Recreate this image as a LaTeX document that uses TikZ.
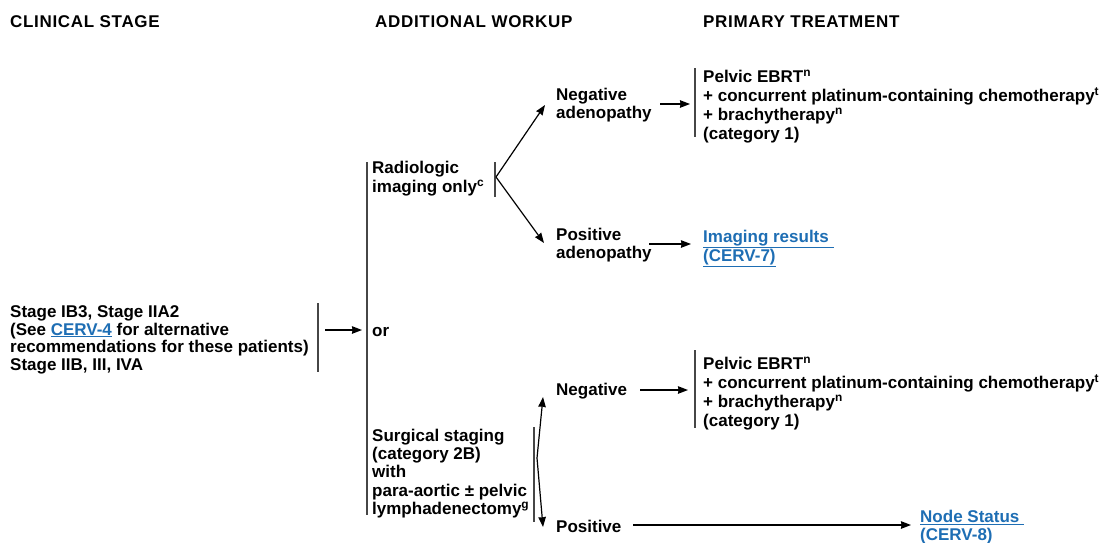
\documentclass[tikz,border=0pt]{standalone}
\usepackage{fontspec}
\setmainfont{Liberation Sans}
\newfontfamily\hdrfont[LetterSpace=4]{Liberation Sans}
\usetikzlibrary{arrows.meta}
\definecolor{linkblue}{RGB}{30,110,180}
\definecolor{rulegray}{RGB}{70,70,70}
\newcommand{\linktext}[1]{\textcolor{linkblue}{\underline{#1}}}
\newcommand{\supnote}[1]{\smash{\textsuperscript{#1}}}
\begin{document}
\begin{tikzpicture}[x=1pt,y=-1pt,
  txt/.style={anchor=north west, inner sep=0pt, align=left, font=\bfseries\fontsize{17}{#1}\selectfont},
  txt/.default=18.5,
  one/.style={anchor=base west, inner sep=0pt, font=\bfseries\fontsize{17}{18.5}\selectfont},
  hdr/.style={anchor=base west, inner sep=0pt, font=\hdrfont\bfseries\fontsize{17}{20}\selectfont},
  bracket/.style={draw=rulegray, line width=1.2pt},
  arr/.style={-{Stealth[length=10pt,width=7.5pt,inset=0.5pt]}, line width=1.2pt}]
\fill[white] (0,0) rectangle (1113,542);
\useasboundingbox (0,0) rectangle (1113,542);

% headers
\node[hdr] (h1) at (10,27) {CLINICAL STAGE};
\node[hdr] (h2) at (375,27) {ADDITIONAL WORKUP};
\node[hdr] (h3) at (703,27) {PRIMARY TREATMENT};

% text blocks
\node[txt=17.7] (stage) at (10,304.7) {\strut Stage IB3, Stage IIA2\\(See \linktext{CERV-4} for alternative\\recommendations for these patients)\\Stage IIB, III, IVA};
\node[one] (or) at (372,336.5) {or};
\node[txt=19] (radio) at (372,159.8) {\strut Radiologic\\imaging only\supnote{c}};
\node[txt=18.25] (surg) at (372,428.3) {\strut Surgical staging\\(category 2B)\\with\\para-aortic ± pelvic\\lymphadenectomy\supnote{g}};
\node[txt=18] (negA) at (556,88.1) {\strut Negative\\adenopathy};
\node[txt=18] (posA) at (556,228.1) {\strut Positive\\adenopathy};
\node[txt=19] (treat1) at (703,68.8) {\strut Pelvic EBRT\supnote{n}\\+ concurrent platinum-containing chemotherapy\supnote{t}\\+ brachytherapy\supnote{n}\\(category 1)};
\node[txt=19] (img) at (703,229) {\strut\linktext{Imaging results\ }\\\linktext{(CERV-7)}};
\node[one] (neg) at (556,395) {Negative};
\node[txt=19] (treat2) at (703,355.8) {\strut Pelvic EBRT\supnote{n}\\+ concurrent platinum-containing chemotherapy\supnote{t}\\+ brachytherapy\supnote{n}\\(category 1)};
\node[one] (pos) at (556,532) {Positive};
\node[txt=18] (nodest) at (920,509.8) {\strut\linktext{Node Status\ }\\\linktext{(CERV-8)}};

% bracket coordinates
\coordinate (bs1) at (318,303); \coordinate (bs2) at (318,372);
\coordinate (bb1) at (367,162); \coordinate (bb2) at (367,515);
\coordinate (br1) at (495,162); \coordinate (br2) at (495,197);
\coordinate (bg1) at (534,427); \coordinate (bg2) at (534,522);
\coordinate (bt1) at (695,68);  \coordinate (bt2) at (695,137);
\coordinate (bu1) at (695,350); \coordinate (bu2) at (695,428);
\draw[bracket] (bs1) -- (bs2);
\draw[bracket] (bb1) -- (bb2);
\draw[bracket] (br1) -- (br2);
\draw[bracket] (bg1) -- (bg2);
\draw[bracket] (bt1) -- (bt2);
\draw[bracket] (bu1) -- (bu2);

% arrow coordinates
\coordinate (a1s) at (325,330); \coordinate (a1e) at (362,330);
\coordinate (rj) at (496,177);
\coordinate (rneg) at (545,105); \coordinate (rpos) at (544,243);
\coordinate (a2s) at (660,104); \coordinate (a2e) at (690,104);
\coordinate (a3s) at (649,244); \coordinate (a3e) at (691,244);
\coordinate (sj) at (537,458);
\coordinate (sneg) at (543,397); \coordinate (spos) at (543,527);
\coordinate (a4s) at (640,390); \coordinate (a4e) at (688,390);
\coordinate (a5s) at (633,525); \coordinate (a5e) at (911,525);

\draw[arr] (a1s) -- (a1e);
\draw[arr] (rj) -- (rneg);
\draw[arr] (rj) -- (rpos);
\draw[arr] (a2s) -- (a2e);
\draw[arr] (a3s) -- (a3e);
\draw[arr] (sj) -- (sneg);
\draw[arr] (sj) -- (spos);
\draw[arr] (a4s) -- (a4e);
\draw[arr] (a5s) -- (a5e);
\end{tikzpicture}
\end{document}
